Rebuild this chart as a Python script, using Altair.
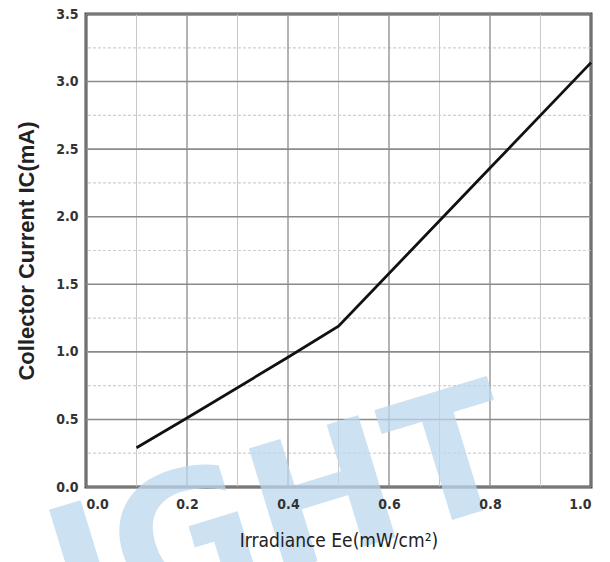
import altair as alt
import pandas as pd

# data
irradiance = [0.1, 0.2, 0.4, 0.5, 0.8, 1.0]
current = [0.29, 0.51, 0.96, 1.19, 2.36, 3.14]

x_major = [0.0, 0.2, 0.4, 0.6, 0.8, 1.0]
x_minor = [0.1, 0.3, 0.5, 0.7, 0.9]
y_major = [0.0, 0.5, 1.0, 1.5, 2.0, 2.5, 3.0, 3.5]
y_minor = [0.25, 0.75, 1.25, 1.75, 2.25, 2.75, 3.25]

watermark = ["IGHT"]

df = pd.DataFrame({"x": irradiance, "y": current})

FONT = "DejaVu Sans Condensed, Liberation Sans, sans-serif"

xs = alt.Scale(domain=[0, 1], nice=False, zero=False)
ys = alt.Scale(domain=[0, 3.5], nice=False, zero=False)

xaxis = alt.Axis(
    values=x_major,
    format=".1f",
    title="Irradiance Ee(mW/cm²)",
    grid=False,
    ticks=False,
    domain=False,
    zindex=1,
    labelFont=FONT,
    labelFontWeight="bold",
    labelFontSize=14,
    labelColor="#333333",
    labelPadding=10,
    titleFont=FONT,
    titleFontWeight="normal",
    titleFontSize=19,
    titleColor="#222222",
    titlePadding=20,
)
yaxis = alt.Axis(
    values=y_major,
    format=".1f",
    title="Collector Current IC(mA)",
    grid=False,
    ticks=False,
    domain=False,
    zindex=1,
    labelFont=FONT,
    labelFontWeight="bold",
    labelFontSize=14,
    labelColor="#333333",
    labelPadding=8,
    titleFont="Liberation Sans, Arial, sans-serif",
    titleFontWeight="bold",
    titleFontSize=22,
    titleColor="#222222",
    titlePadding=17,
)

wm = alt.Chart(pd.DataFrame({"t": watermark})).mark_text(
    font="DejaVu Sans",
    fontWeight="bold",
    fontSize=175,
    angle=343,
    align="center",
    baseline="alphabetic",
    color="#bcd7ee",
    opacity=0.75,
).encode(text="t:N", x=alt.value(212), y=alt.value(553))

xminor = alt.Chart(pd.DataFrame({"v": x_minor})).mark_rule(
    color="#c8c8c8", strokeWidth=1
).encode(x=alt.X("v:Q", scale=xs, axis=xaxis))
yminor = alt.Chart(pd.DataFrame({"v": y_minor})).mark_rule(
    color="#cfcfcf", strokeWidth=1.2, strokeDash=[3, 2]
).encode(y=alt.Y("v:Q", scale=ys, axis=yaxis))
xmajor = alt.Chart(pd.DataFrame({"v": x_major})).mark_rule(
    color="#8a8a8a", strokeWidth=1.3
).encode(x=alt.X("v:Q", scale=xs, axis=xaxis))
ymajor = alt.Chart(pd.DataFrame({"v": y_major})).mark_rule(
    color="#8a8a8a", strokeWidth=1.6
).encode(y=alt.Y("v:Q", scale=ys, axis=yaxis))

line = alt.Chart(df).mark_line(color="#111111", strokeWidth=2.8).encode(
    x=alt.X("x:Q", scale=xs, axis=xaxis),
    y=alt.Y("y:Q", scale=ys, axis=yaxis),
)

chart = (
    alt.layer(xminor, yminor, xmajor, ymajor, wm, line)
    .properties(
        width=505,
        height=473,
        autosize=alt.AutoSizeParams(type="none"),
        padding={"left": 86, "top": 14, "right": 19, "bottom": 75},
        background="white",
    )
    .configure_view(stroke="#444444", strokeWidth=3)
)

chart.save("out.html", embed_options={"renderer": "svg", "actions": False})
